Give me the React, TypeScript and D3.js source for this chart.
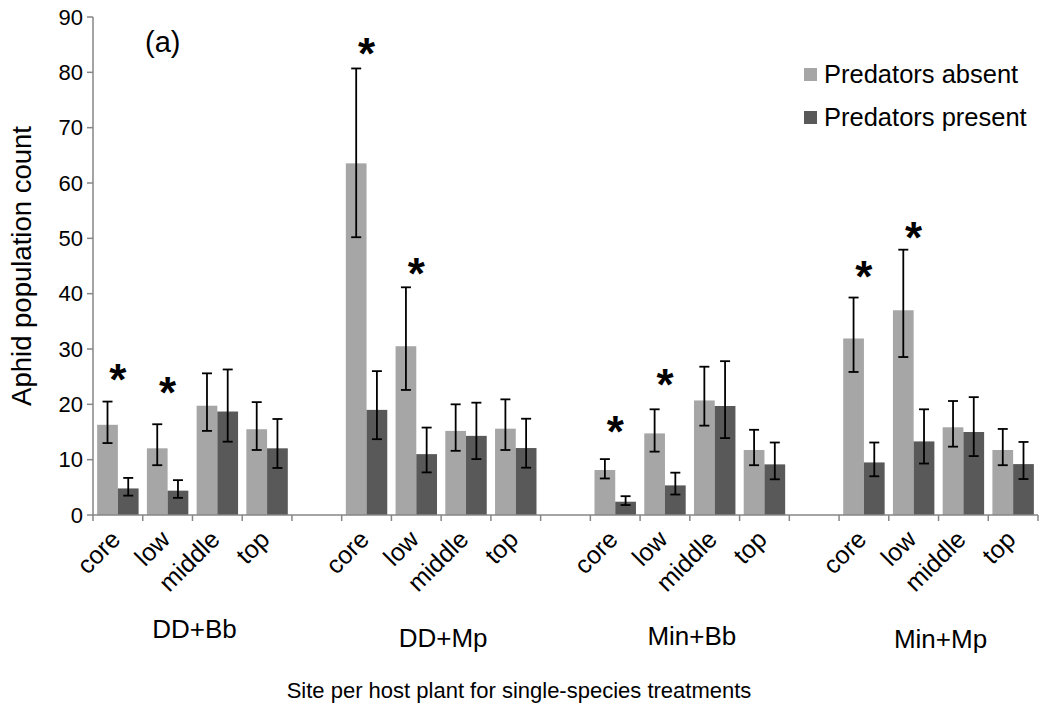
import * as d3 from "d3";
import React from "react";

// sites within each host-plant treatment
const sites = ["core", "low", "middle", "top"];
const groups = ["DD+Bb", "DD+Mp", "Min+Bb", "Min+Mp"];
const yTicks = [0, 10, 20, 30, 40, 50, 60, 70, 80, 90];

// predators absent (mean, upper and lower error bar ends), ordered group by group
const absentMean = [16.3, 12.05, 19.75, 15.5, 63.55, 30.5, 15.2, 15.6, 8.13, 14.75, 20.7, 11.75, 31.9, 37.0, 15.85, 11.75];
const absentUpper = [20.5, 16.4, 25.6, 20.4, 80.7, 41.15, 20.0, 20.9, 10.1, 19.1, 26.8, 15.4, 39.3, 47.95, 20.6, 15.55];
const absentLower = [13.0, 9.0, 15.2, 11.75, 50.2, 22.6, 11.6, 11.75, 6.6, 11.45, 16.15, 9.0, 25.85, 28.55, 12.35, 9.0];

// predators present
const presentMean = [4.8, 4.4, 18.7, 12.05, 19.0, 11.0, 14.3, 12.1, 2.4, 5.35, 19.7, 9.15, 9.5, 13.3, 15.0, 9.2];
const presentUpper = [6.7, 6.3, 26.3, 17.35, 26.0, 15.8, 20.3, 17.4, 3.4, 7.65, 27.8, 13.1, 13.1, 19.1, 21.3, 13.2];
const presentLower = [3.5, 3.1, 13.25, 8.5, 13.7, 7.7, 10.1, 8.55, 1.8, 3.7, 13.9, 6.45, 7.0, 9.3, 10.65, 6.5];

// significance stars: group index, site index, height in count units
const starGroup = [0, 0, 1, 1, 2, 2, 3, 3];
const starSite = [0, 1, 0, 1, 0, 1, 0, 1];
const starValue = [26.2, 23.9, 85.2, 45.3, 16.8, 25.3, 44.8, 51.9];

const series = [
  { key: "absent", label: "Predators absent", color: "#a6a6a6", mean: absentMean, upper: absentUpper, lower: absentLower },
  { key: "present", label: "Predators present", color: "#595959", mean: presentMean, upper: presentUpper, lower: presentLower },
];

const W = 1041;
const H = 711;
const font = "'Liberation Sans', Arial, sans-serif";
const axisColor = "#868686";
// the group captions do not sit on one line in the original
const groupLabelY = [638, 647, 645, 648];

const App: React.FC = () => {
  const left = 93;
  const right = 1038;
  const bottom = 515;
  const top = 17;

  // 4 sites per group plus one empty slot between groups
  const slotCount = groups.length * (sites.length + 1) - 1;
  const x = d3.scaleBand<number>().domain(d3.range(slotCount)).range([left, right]).padding(0);
  const inner = d3
    .scaleBand<string>()
    .domain(series.map((s) => s.key))
    .range([0, x.bandwidth()])
    .paddingInner(0)
    .paddingOuter(0.2);
  const y = d3.scaleLinear().domain([0, 90]).range([bottom, top]);

  const slotOf = (g: number, s: number) => g * (sites.length + 1) + s;
  const capHalf = 5;

  const boundaries = d3.range(slotCount + 1).map((i) => left + i * x.step());

  return (
    <svg width={W} height={H} style={{ position: "absolute", left: 0, top: 0, background: "#fff" }} fontFamily={font}>
      {/* y axis */}
      <line x1={left} x2={left} y1={top} y2={bottom} stroke={axisColor} strokeWidth={1.5} />
      {yTicks.map((t) => (
        <g key={t}>
          <line x1={left - 6} x2={left} y1={y(t)} y2={y(t)} stroke={axisColor} strokeWidth={1.5} />
          <text x={left - 10} y={y(t)} dy="0.35em" textAnchor="end" fontSize={22} fill="#000">
            {t}
          </text>
        </g>
      ))}
      <text transform={`translate(31,${(top + bottom) / 2}) rotate(-90)`} textAnchor="middle" fontSize={27.5} fill="#000">
        Aphid population count
      </text>

      {/* bars */}
      {groups.map((g, gi) =>
        sites.map((s, si) => {
          const i = gi * sites.length + si;
          const x0 = x(slotOf(gi, si)) as number;
          return (
            <g key={`${g}-${s}`}>
              {series.map((ser) => {
                const bx = x0 + (inner(ser.key) as number);
                const cx = bx + inner.bandwidth() / 2;
                return (
                  <g key={ser.key}>
                    <rect x={bx} y={y(ser.mean[i])} width={inner.bandwidth()} height={bottom - y(ser.mean[i])} fill={ser.color} />
                    <line x1={cx} x2={cx} y1={y(ser.upper[i])} y2={y(ser.lower[i])} stroke="#000" strokeWidth={1.8} />
                    <line x1={cx - capHalf} x2={cx + capHalf} y1={y(ser.upper[i])} y2={y(ser.upper[i])} stroke="#000" strokeWidth={1.8} />
                    <line x1={cx - capHalf} x2={cx + capHalf} y1={y(ser.lower[i])} y2={y(ser.lower[i])} stroke="#000" strokeWidth={1.8} />
                  </g>
                );
              })}
            </g>
          );
        })
      )}

      {/* x axis */}
      <line x1={left} x2={right} y1={bottom} y2={bottom} stroke={axisColor} strokeWidth={1.5} />
      {boundaries.map((bx, i) => (
        <line key={i} x1={bx} x2={bx} y1={bottom} y2={bottom + 6} stroke={axisColor} strokeWidth={1.5} />
      ))}
      {groups.map((g, gi) =>
        sites.map((s, si) => {
          const cx = (x(slotOf(gi, si)) as number) + x.bandwidth() / 2 + 4;
          return (
            <text key={`${g}-${s}-lbl`} transform={`translate(${cx},${bottom + 26}) rotate(-45)`} textAnchor="end" fontSize={25} fill="#000">
              {s}
            </text>
          );
        })
      )}
      {groups.map((g, gi) => {
        const a = x(slotOf(gi, 0)) as number;
        const b = (x(slotOf(gi, sites.length - 1)) as number) + x.bandwidth();
        return (
          <text key={g} x={(a + b) / 2 + 2} y={groupLabelY[gi]} textAnchor="middle" fontSize={26} fill="#000">
            {g}
          </text>
        );
      })}
      <text x={519} y={698} textAnchor="middle" fontSize={22} fill="#000">
        Site per host plant for single-species treatments
      </text>

      {/* significance */}
      {starValue.map((v, k) => {
        const cx = (x(slotOf(starGroup[k], starSite[k])) as number) + x.bandwidth() / 2;
        return (
          <text key={k} x={cx} y={y(v) + 25} textAnchor="middle" fontSize={44} fontWeight="bold" fill="#000">
            *
          </text>
        );
      })}

      <text x={145} y={52} fontSize={29} fill="#000">
        (a)
      </text>

      {/* legend */}
      {series.map((ser, k) => (
        <g key={ser.key} transform={`translate(804,${68 + k * 43})`}>
          <rect width={13} height={13} fill={ser.color} />
          <text x={20} y={15} fontSize={25.5} fill="#000">
            {ser.label}
          </text>
        </g>
      ))}
    </svg>
  );
};

export default App;
